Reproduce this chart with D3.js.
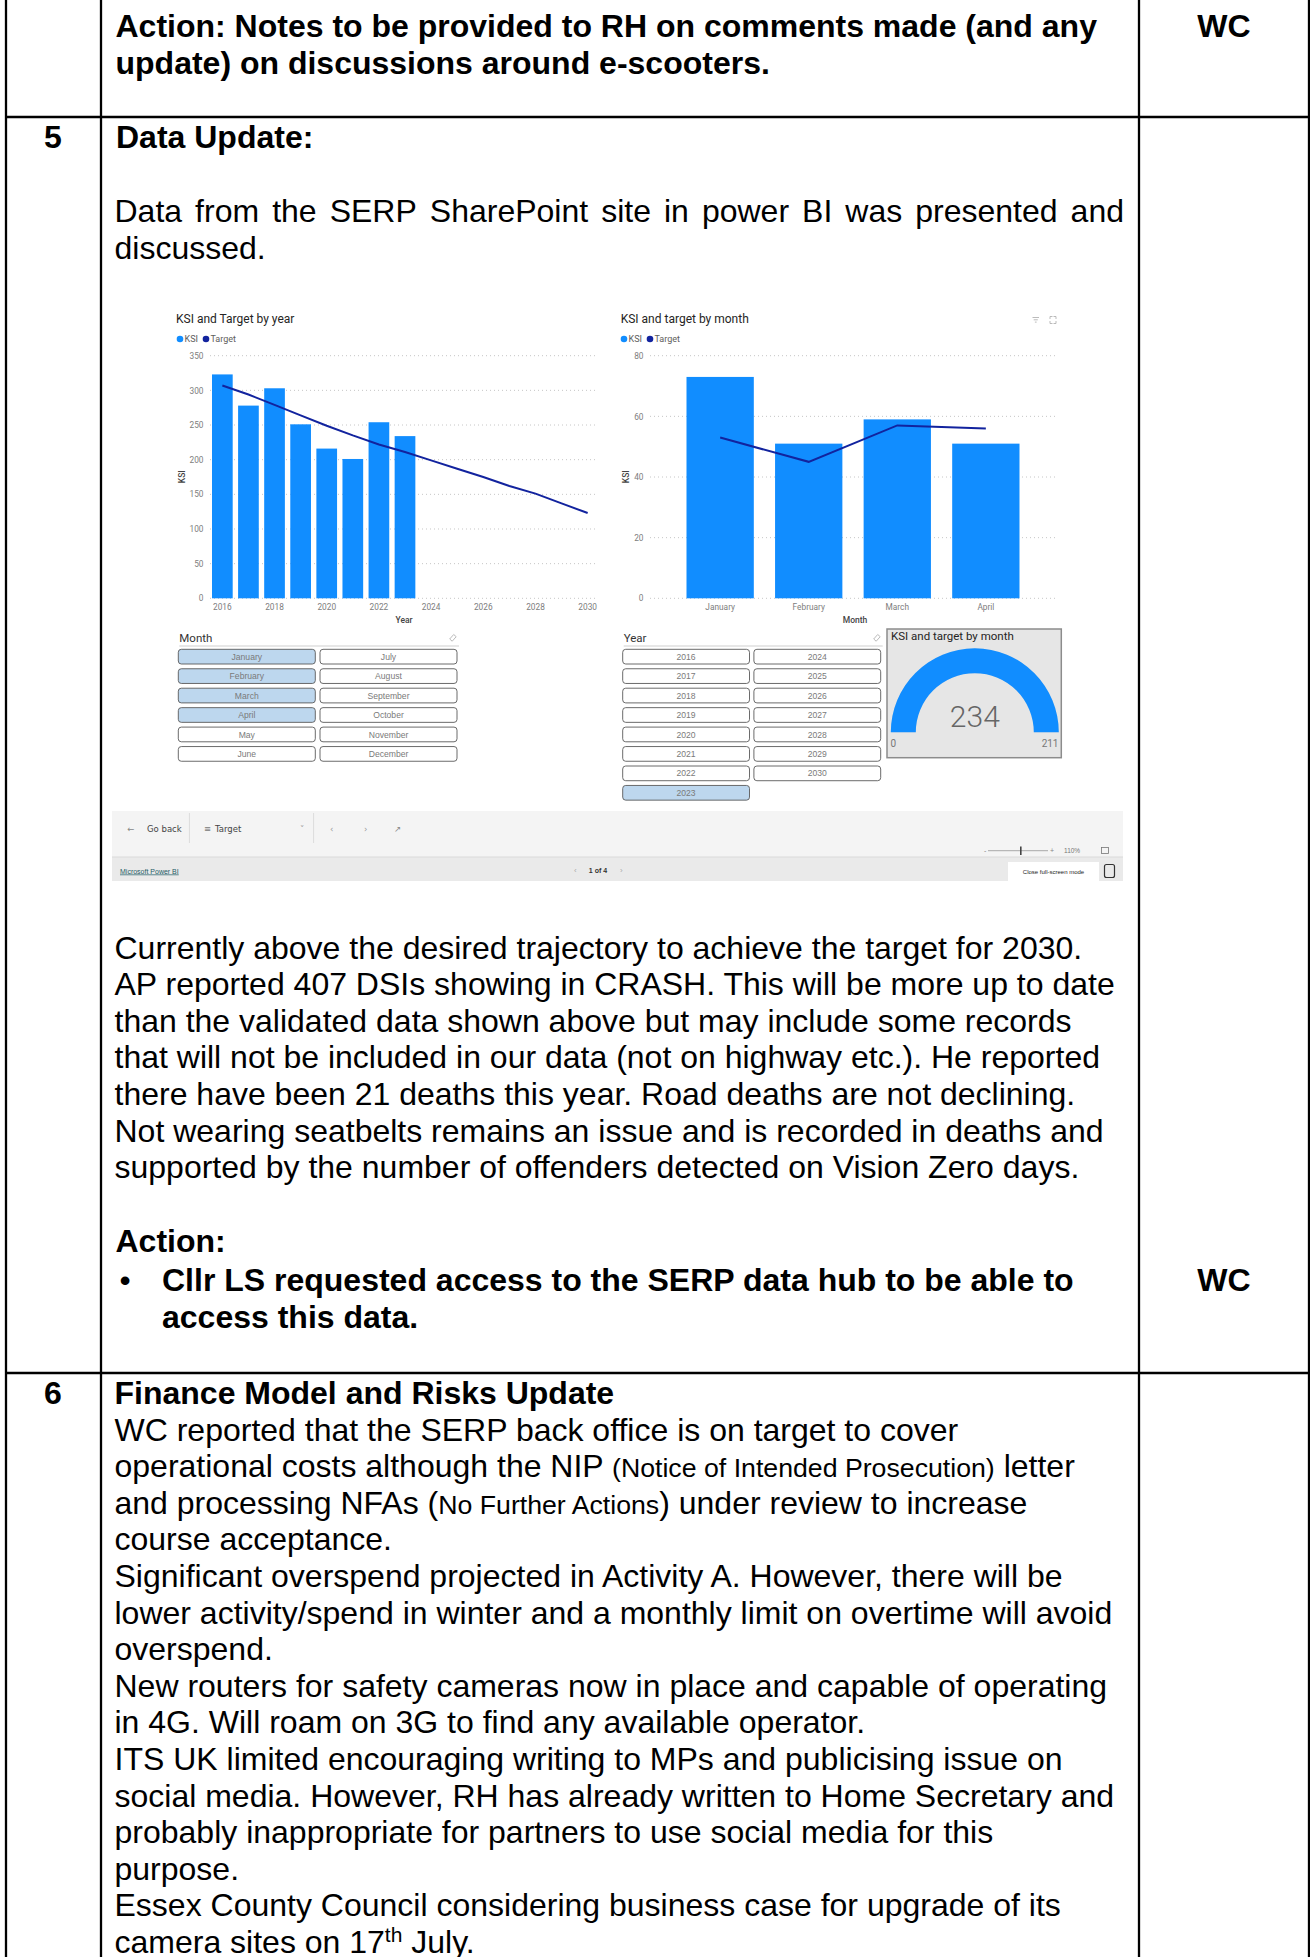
<!DOCTYPE html>
<html>
<head>
<meta charset="utf-8">
<script src="https://cdn.jsdelivr.net/npm/d3@7"></script>
<style>
body { margin: 0; background: #fff; }
svg { display: block; }
</style>
</head>
<body>
<svg id="page"></svg>
<script>
// ---- document text ----
var row1Lines = ["Action: Notes to be provided to RH on comments made (and any",
                 "update) on discussions around e-scooters."];
var row5Intro = "Data from the SERP SharePoint site in power BI was presented and";
var row5Intro2 = "discussed.";
var row5Body = ["Currently above the desired trajectory to achieve the target for 2030.",
    "AP reported 407 DSIs showing in CRASH. This will be more up to date",
    "than the validated data shown above but may include some records",
    "that will not be included in our data (not on highway etc.). He reported",
    "there have been 21 deaths this year. Road deaths are not declining.",
    "Not wearing seatbelts remains an issue and is recorded in deaths and",
    "supported by the number of offenders detected on Vision Zero days."];
var row5Action = ["Cllr LS requested access to the SERP data hub to be able to",
                  "access this data."];
// segments: [text, kind]  kind: b = bold, s = small, sup = superscript
var row6Lines = [
    [["Finance Model and Risks Update", "b"]],
    [["WC reported that the SERP back office is on target to cover"]],
    [["operational costs although the NIP "], ["(Notice of Intended Prosecution)", "s"], [" letter"]],
    [["and processing NFAs ("], ["No Further Actions", "s"], [") under review to increase"]],
    [["course acceptance."]],
    [["Significant overspend projected in Activity A. However, there will be"]],
    [["lower activity/spend in winter and a monthly limit on overtime will avoid"]],
    [["overspend."]],
    [["New routers for safety cameras now in place and capable of operating"]],
    [["in 4G. Will roam on 3G to find any available operator."]],
    [["ITS UK limited encouraging writing to MPs and publicising issue on"]],
    [["social media. However, RH has already written to Home Secretary and"]],
    [["probably inappropriate for partners to use social media for this"]],
    [["purpose."]],
    [["Essex County Council considering business case for upgrade of its"]],
    [["camera sites on 17"], ["th", "sup"], [" July."]]
];

// ---- chart data (Power BI screenshot) ----
var yearCats = ["2016", "2017", "2018", "2019", "2020", "2021", "2022", "2023",
                "2024", "2025", "2026", "2027", "2028", "2029", "2030"];
var ksiYearCats = ["2016", "2017", "2018", "2019", "2020", "2021", "2022", "2023"];
var ksiYear = [323, 278, 303, 251, 216, 201, 254, 234];
var targetYear = [307, 294, 279, 264, 249, 235, 222, 211, 199, 187, 175, 162, 151, 137, 123];
var yearAxisTicks = ["2016", "2018", "2020", "2022", "2024", "2026", "2028", "2030"];
var ksiYearTicks = [0, 50, 100, 150, 200, 250, 300, 350];

var monthCats = ["January", "February", "March", "April"];
var ksiMonth = [73, 51, 59, 51];
var targetMonth = [53, 45, 57, 56];
var ksiMonthTicks = [0, 20, 40, 60, 80];

var slicerMonths = ["January", "February", "March", "April", "May", "June",
                    "July", "August", "September", "October", "November", "December"];
var selectedMonths = ["January", "February", "March", "April"];
var slicerYears = ["2016", "2017", "2018", "2019", "2020", "2021", "2022", "2023",
                   "2024", "2025", "2026", "2027", "2028", "2029", "2030"];
var selectedYears = ["2023"];

var gaugeValue = 234, gaugeMin = 0, gaugeMax = 211;

var W = 1310, H = 1957;
var svg = d3.select("#page").attr("width", W).attr("height", H);

// ---------- table ----------
var doc = svg.append("g")
    .attr("font-family", "'Liberation Sans', Arial, sans-serif")
    .attr("font-size", 32)
    .attr("fill", "#000");

var colX = [6, 101, 1139, 1309];
var rowY = [117, 1373];
var grid = svg.append("g").attr("stroke", "#000").attr("stroke-width", 2.3);
grid.selectAll(".v").data(colX).enter().append("line")
    .attr("x1", function(d) { return d; }).attr("x2", function(d) { return d; })
    .attr("y1", 0).attr("y2", H);
grid.selectAll(".h").data(rowY).enter().append("line")
    .attr("x1", colX[0]).attr("x2", colX[3])
    .attr("y1", function(d) { return d; }).attr("y2", function(d) { return d; });

var TX = 114.5, LH = 36.6;

function plain(x, y, t, bold, anchor) {
    return doc.append("text").attr("x", x).attr("y", y)
        .attr("font-weight", bold ? "bold" : null)
        .attr("text-anchor", anchor || null)
        .text(t);
}

// row 1
row1Lines.forEach(function(t, i) { plain(TX + 1, 37 + i * LH, t, true); });
plain(1224, 37, "WC", true, "middle");

// row 5
plain(53, 147.5, "5", true, "middle");
plain(TX + 1.5, 147.5, "Data Update:", true);

// justified line
(function() {
    var words = row5Intro.split(" ");
    var nodes = words.map(function(w) { return plain(0, 222, w); });
    var widths = nodes.map(function(n) { return n.node().getComputedTextLength(); });
    var gap = (1124 - TX - d3.sum(widths)) / (words.length - 1);
    var x = TX;
    nodes.forEach(function(n, i) { n.attr("x", x); x += widths[i] + gap; });
})();
plain(TX, 222 + LH, row5Intro2);

row5Body.forEach(function(t, i) { plain(TX, 958.5 + i * LH, t); });
plain(TX + 1, 1252, "Action:", true);
plain(125, 1291, "\u2022", false, "middle");
row5Action.forEach(function(t, i) { plain(162, 1291 + i * 36.8, t, true); });
plain(1224, 1291, "WC", true, "middle");

// row 6
plain(53, 1404, "6", true, "middle");
row6Lines.forEach(function(segs, i) {
    var t = doc.append("text").attr("x", TX).attr("y", 1404 + i * LH);
    var shift = 0;
    segs.forEach(function(s) {
        var sp = t.append("tspan").text(s[0]);
        if (s[1] === "b") sp.attr("font-weight", "bold");
        if (s[1] === "s") sp.attr("font-size", 26.7);
        if (s[1] === "sup") { sp.attr("font-size", 21).attr("dy", -11); shift = 11; }
        else if (shift) { sp.attr("dy", shift); shift = 0; }
    });
});

// ---------- Power BI screenshot ----------
var pbi = svg.append("g").attr("font-family", "Roboto, 'Noto Sans', sans-serif");
var tickCol = "#7d7d7d", titleCol = "#252423", legendCol = "#605E5C";
var barCol = "#118DFF", lineCol = "#12239E";

function styleAxis(g) {
    g.attr("font-family", null).attr("font-size", null);
    g.select(".domain").remove();
    g.selectAll("text").attr("font-size", 8.3).attr("fill", tickCol);
}

function legend(x, y) {
    var items = [{n: "KSI", c: barCol, dx: 0}, {n: "Target", c: lineCol, dx: 26}];
    var lg = pbi.append("g").attr("transform", "translate(" + x + "," + y + ")");
    lg.selectAll("circle").data(items).enter().append("circle")
        .attr("cx", function(d) { return d.dx; }).attr("cy", 0).attr("r", 3.3)
        .attr("fill", function(d) { return d.c; });
    lg.selectAll("text").data(items).enter().append("text")
        .attr("x", function(d) { return d.dx + 4.5; }).attr("y", 3.3)
        .attr("font-size", 9).attr("fill", legendCol)
        .text(function(d) { return d.n; });
}

// chart 1: KSI and Target by year
var x1 = d3.scaleBand().domain(yearCats).range([212, 598]).paddingInner(0.207);
var y1 = d3.scaleLinear().domain([0, 350]).range([598.3, 355.7]);

pbi.append("text").attr("x", 176).attr("y", 323).attr("font-size", 12)
    .attr("fill", titleCol).text("KSI and Target by year");
legend(180, 339);

pbi.append("g").selectAll("line").data(ksiYearTicks).enter().append("line")
    .attr("x1", 210).attr("x2", 597)
    .attr("y1", function(d) { return y1(d); }).attr("y2", function(d) { return y1(d); })
    .attr("stroke", "#c6c6c6").attr("stroke-dasharray", "1,3");

pbi.append("g").attr("transform", "translate(206.5,0)")
    .call(d3.axisLeft(y1).tickValues(ksiYearTicks).tickSize(0).tickPadding(3))
    .call(styleAxis);
pbi.append("g").attr("transform", "translate(0," + y1(0) + ")")
    .call(d3.axisBottom(x1).tickValues(yearAxisTicks).tickSize(0).tickPadding(5.5))
    .call(styleAxis);

pbi.append("g").selectAll("rect").data(ksiYear).enter().append("rect")
    .attr("x", function(d, i) { return x1(ksiYearCats[i]); })
    .attr("width", x1.bandwidth())
    .attr("y", function(d) { return y1(d); })
    .attr("height", function(d) { return y1(0) - y1(d); })
    .attr("fill", barCol);

pbi.append("path")
    .datum(targetYear)
    .attr("fill", "none").attr("stroke", lineCol).attr("stroke-width", 2)
    .attr("d", d3.line()
        .x(function(d, i) { return x1(yearCats[i]) + x1.bandwidth() / 2; })
        .y(function(d) { return y1(d); }));

pbi.append("text").attr("transform", "translate(184.5,476.7) rotate(-90)")
    .attr("text-anchor", "middle").attr("font-size", 8.5).attr("font-weight", 500)
    .attr("fill", "#444").text("KSI");
pbi.append("text").attr("x", 404).attr("y", 622.5).attr("text-anchor", "middle")
    .attr("font-size", 8.5).attr("font-weight", 500).attr("fill", "#444").text("Year");

// chart 2: KSI and target by month
var x2 = d3.scaleBand().domain(monthCats).range([686.5, 1019.5]).paddingInner(0.24);
var y2 = d3.scaleLinear().domain([0, 80]).range([598.3, 355.7]);

pbi.append("text").attr("x", 620.7).attr("y", 323.3).attr("font-size", 12)
    .attr("fill", titleCol).text("KSI and target by month");
legend(624, 339);

// header icons
var ic = pbi.append("g").attr("stroke", "#aaa").attr("stroke-width", 0.8).attr("fill", "none");
ic.append("path").attr("d", "M1032.5,317.5h6.5M1033.7,319.8h4.1M1034.9,322.1h1.7");
ic.append("path").attr("d", "M1050,319v-2.5h2.5M1056,319v-2.5h-2.5M1050,321v2.5h2.5M1056,321v2.5h-2.5");

pbi.append("g").selectAll("line").data(ksiMonthTicks).enter().append("line")
    .attr("x1", 650).attr("x2", 1057)
    .attr("y1", function(d) { return y2(d); }).attr("y2", function(d) { return y2(d); })
    .attr("stroke", "#c6c6c6").attr("stroke-dasharray", "1,3");

pbi.append("g").attr("transform", "translate(646.5,0)")
    .call(d3.axisLeft(y2).tickValues(ksiMonthTicks).tickSize(0).tickPadding(3))
    .call(styleAxis);
pbi.append("g").attr("transform", "translate(0," + y2(0) + ")")
    .call(d3.axisBottom(x2).tickSize(0).tickPadding(5.5))
    .call(styleAxis);

pbi.append("g").selectAll("rect").data(ksiMonth).enter().append("rect")
    .attr("x", function(d, i) { return x2(monthCats[i]); })
    .attr("width", x2.bandwidth())
    .attr("y", function(d) { return y2(d); })
    .attr("height", function(d) { return y2(0) - y2(d); })
    .attr("fill", barCol);

pbi.append("path")
    .datum(targetMonth)
    .attr("fill", "none").attr("stroke", lineCol).attr("stroke-width", 2)
    .attr("d", d3.line()
        .x(function(d, i) { return x2(monthCats[i]) + x2.bandwidth() / 2; })
        .y(function(d) { return y2(d); }));

pbi.append("text").attr("transform", "translate(628.5,476.7) rotate(-90)")
    .attr("text-anchor", "middle").attr("font-size", 8.5).attr("font-weight", 500)
    .attr("fill", "#444").text("KSI");
pbi.append("text").attr("x", 855).attr("y", 622.5).attr("text-anchor", "middle")
    .attr("font-size", 8.5).attr("font-weight", 500).attr("fill", "#444").text("Month");

// slicers
function slicer(items, selected, nRows, header, left, colW, colGap, eraserX) {
    var g = pbi.append("g");
    var rows = d3.scaleBand().domain(d3.range(nRows))
        .range([649.3, 649.3 + 19.45 * (nRows - 0.244)]).paddingInner(0.244);
    var cols = d3.scaleBand().domain([0, 1])
        .range([left, left + colW * 2 + colGap]).paddingInner(colGap / (colW + colGap));
    g.append("text").attr("x", left + 1).attr("y", 641.7).attr("font-size", 11.5)
        .attr("fill", "#333").text(header);
    g.append("line").attr("x1", left + 1).attr("x2", left + colW * 2 + colGap + 2)
        .attr("y1", 646).attr("y2", 646).attr("stroke", "#cfcfcf");
    g.append("path")
        .attr("d", "M" + (eraserX - 3) + ",639l4,-4.5l2.5,2.2l-4,4.5z")
        .attr("fill", "none").attr("stroke", "#aaa").attr("stroke-width", 0.8);
    var b = g.selectAll(".btn").data(items).enter().append("g")
        .attr("transform", function(d, i) {
            return "translate(" + cols(Math.floor(i / nRows)) + "," + rows(i % nRows) + ")";
        });
    b.append("rect").attr("width", cols.bandwidth()).attr("height", rows.bandwidth())
        .attr("rx", 3)
        .attr("fill", function(d) { return selected.indexOf(d) >= 0 ? "#BDD7EE" : "#fff"; })
        .attr("stroke", "#5a5a5a").attr("stroke-width", 0.9);
    b.append("text").attr("x", cols.bandwidth() / 2).attr("y", rows.bandwidth() / 2 + 3.1)
        .attr("text-anchor", "middle").attr("font-size", 8.6)
        .attr("font-family", "'Liberation Sans', Arial, sans-serif")
        .attr("fill", "#7a7a7a").text(function(d) { return d; });
}
slicer(slicerMonths, selectedMonths, 6, "Month", 178.3, 137, 4.7, 452.7);
slicer(slicerYears, selectedYears, 8, "Year", 622.7, 126.8, 4.4, 876.7);

// gauge card
var card = pbi.append("g");
card.append("rect").attr("x", 887).attr("y", 629).attr("width", 174.3).attr("height", 128.7)
    .attr("fill", "#E6E6E6").attr("stroke", "#8c8c8c").attr("stroke-width", 1.5);
card.append("text").attr("x", 891).attr("y", 640).attr("font-size", 11.5)
    .attr("fill", titleCol).text("KSI and target by month");
var ga = d3.scaleLinear().domain([gaugeMin, gaugeMax]).range([-Math.PI / 2, Math.PI / 2]).clamp(true);
var arc = d3.arc().innerRadius(59).outerRadius(84);
var gc = card.append("g").attr("transform", "translate(974.8,732.3)");
gc.append("path").attr("fill", "#dcdcdc")
    .attr("d", arc({startAngle: ga(gaugeMin), endAngle: ga(gaugeMax)}));
gc.append("path").attr("fill", barCol)
    .attr("d", arc({startAngle: ga(gaugeMin), endAngle: ga(gaugeValue)}));
gc.append("text").attr("y", -5.6).attr("text-anchor", "middle").attr("font-size", 30)
    .attr("font-weight", 300).attr("fill", "#666").text(gaugeValue);
card.append("text").attr("x", 890.5).attr("y", 747).attr("font-size", 10)
    .attr("fill", "#777").text(gaugeMin);
card.append("text").attr("x", 1058.5).attr("y", 747).attr("font-size", 10)
    .attr("text-anchor", "end").attr("fill", "#777").text(gaugeMax);

// bottom bar
var bar = pbi.append("g").attr("font-family", "'Liberation Sans', Arial, sans-serif");
bar.append("rect").attr("x", 112).attr("y", 811).attr("width", 1011).attr("height", 46).attr("fill", "#F4F4F4");
bar.append("rect").attr("x", 112).attr("y", 857).attr("width", 1011).attr("height", 24).attr("fill", "#EAEAEA");
bar.append("line").attr("x1", 112).attr("x2", 1123).attr("y1", 857).attr("y2", 857).attr("stroke", "#dadada");
bar.selectAll(".sep").data([189.4, 313.6]).enter().append("line")
    .attr("x1", function(d) { return d; }).attr("x2", function(d) { return d; })
    .attr("y1", 813).attr("y2", 843).attr("stroke", "#dcdcdc");
var tb = [
    {x: 127, t: "\u2190", c: "#888"}, {x: 147, t: "Go back", c: "#444"},
    {x: 204, t: "\u2261", c: "#777"}, {x: 215, t: "Target", c: "#444"},
    {x: 300, t: "\u02C5", c: "#999"}, {x: 330, t: "\u2039", c: "#999"},
    {x: 364, t: "\u203A", c: "#999"}, {x: 394, t: "\u2197", c: "#888"}
];
bar.selectAll(".tb").data(tb).enter().append("text")
    .attr("x", function(d) { return d.x; }).attr("y", 832).attr("font-size", 8.5)
    .attr("font-family", "'DejaVu Sans', 'Liberation Sans', sans-serif")
    .attr("fill", function(d) { return d.c; }).text(function(d) { return d.t; });
// zoom slider
bar.append("line").attr("x1", 988).attr("x2", 1048).attr("y1", 850.7).attr("y2", 850.7).attr("stroke", "#888").attr("stroke-width", 0.7);
bar.append("rect").attr("x", 1020).attr("y", 846.5).attr("width", 1.6).attr("height", 8.5).attr("fill", "#444");
bar.append("text").attr("x", 984).attr("y", 853).attr("font-size", 7).attr("fill", "#888").text("-");
bar.append("text").attr("x", 1050).attr("y", 853).attr("font-size", 7).attr("fill", "#888").text("+");
bar.append("text").attr("x", 1064).attr("y", 853).attr("font-size", 6.5).attr("fill", "#777").text("110%");
bar.append("rect").attr("x", 1101.5).attr("y", 847.5).attr("width", 7).attr("height", 6).attr("fill", "none").attr("stroke", "#777").attr("stroke-width", 0.8);
// footer
bar.append("text").attr("x", 120).attr("y", 873.5).attr("font-size", 7).attr("fill", "#1f5c66")
    .attr("text-decoration", "underline").text("Microsoft Power BI");
bar.append("text").attr("x", 598).attr("y", 873).attr("font-size", 7).attr("font-weight", "bold")
    .attr("text-anchor", "middle").attr("fill", "#333").text("1 of 4");
bar.append("text").attr("x", 574).attr("y", 873).attr("font-size", 8).attr("fill", "#aaa").text("\u2039");
bar.append("text").attr("x", 620).attr("y", 873).attr("font-size", 8).attr("fill", "#aaa").text("\u203A");
bar.append("rect").attr("x", 1008).attr("y", 862).attr("width", 91).attr("height", 19).attr("fill", "#fff");
bar.append("text").attr("x", 1053.5).attr("y", 874).attr("font-size", 6).attr("text-anchor", "middle")
    .attr("fill", "#222").text("Close full-screen mode");
bar.append("rect").attr("x", 1104.5).attr("y", 864.5).attr("width", 10).attr("height", 13).attr("rx", 2)
    .attr("fill", "none").attr("stroke", "#333").attr("stroke-width", 1.2);
</script>
</body>
</html>
